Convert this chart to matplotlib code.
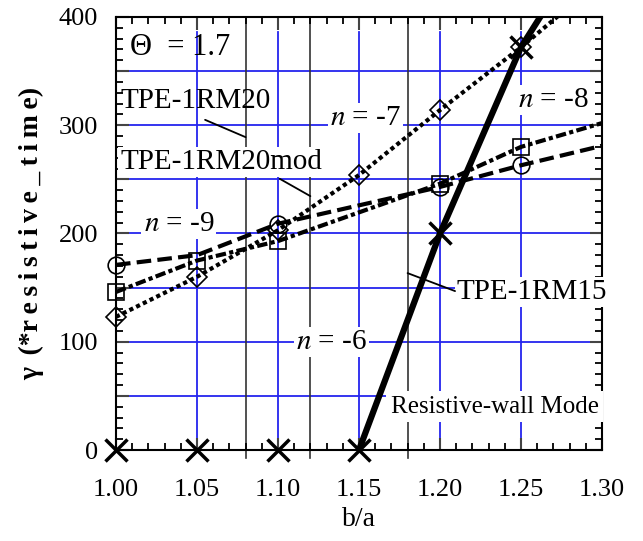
import matplotlib
matplotlib.use("Agg")
import matplotlib.pyplot as plt
from matplotlib.ticker import MultipleLocator, FuncFormatter

plt.rcParams['font.family'] = ['Liberation Serif', 'DejaVu Serif']
plt.rcParams['mathtext.fontset'] = 'stix'

# b/a values of the computed points
ba = [1.00, 1.05, 1.10, 1.15, 1.20, 1.25, 1.30]

# growth rates (in units of 1/resistive time) for each toroidal mode number
gamma_n6 = [0, 0, 0, 0, 200, 372, 490]
gamma_n7 = [123, 160, 203, 254, 314, 372, 435]
ba_n89 = [1.00, 1.05, 1.10, 1.20, 1.25, 1.30]
gamma_n8 = [146, 175, 193, 246, 280, 302]
gamma_n9 = [171, 180, 209, 243, 263, 281]

# wall positions of the devices
device_ba = [1.08, 1.12, 1.18]

blue = '#2424ee'

fig = plt.figure(figsize=(6.43, 5.41), dpi=100)
ax = fig.add_axes([0.1804, 0.1682, 0.7558, 0.8004])
ax.set_xlim(1.00, 1.30)
ax.set_ylim(0, 400)

# blue grid
for y in range(50, 400, 50):
    ax.axhline(y, xmin=0.02, xmax=0.98, color=blue, lw=1.3, zorder=1)
for x in [1.05, 1.10, 1.15, 1.20, 1.25]:
    ax.axvline(x, ymin=0.0, ymax=0.965, color=blue, lw=1.3, zorder=1)

# device lines
for x in device_ba:
    ax.plot([x, x], [-7, 400], color='#333333', lw=1.2, zorder=1, clip_on=False)

# n = -6 : thick solid, line only where it rises
ax.plot(ba[3:], gamma_n6[3:], color='black', lw=4.5, zorder=5,
        solid_capstyle='butt')
ax.plot(ba[:6], gamma_n6[:6], linestyle='none', marker='x', color='black',
        ms=16, mew=2.5, zorder=6, clip_on=False)

# n = -7 : dotted with diamonds
ax.plot(ba, gamma_n7, color='black', lw=3, linestyle=(0, (1, 0.8)),
        dash_capstyle='butt', zorder=4)
ax.plot(ba[:6], gamma_n7[:6], linestyle='none', marker='D', ms=10,
        mfc='none', mec='black', mew=1.2, zorder=4, clip_on=False)

# n = -8 : dash-dot with squares
ax.plot(ba_n89, gamma_n8, color='black', lw=3,
        linestyle=(0, (2.5, 0.8, 1, 0.8)), dash_capstyle='butt', zorder=4)
ax.plot(ba_n89[:5], gamma_n8[:5], linestyle='none', marker='s', ms=12,
        mfc='none', mec='black', mew=1.2, zorder=4, clip_on=False)

# n = -9 : dashed with circles
ax.plot(ba_n89, gamma_n9, color='black', lw=3, linestyle=(0, (3.5, 1.5)),
        dash_capstyle='butt', zorder=4)
circ = [0, 2, 3, 4]
ax.plot([ba_n89[i] for i in circ], [gamma_n9[i] for i in circ],
        linestyle='none', marker='o', ms=12, mfc='none', mec='black', mew=1.2,
        zorder=4, clip_on=False)

# ticks
ax.xaxis.set_major_locator(MultipleLocator(0.05))
ax.xaxis.set_minor_locator(MultipleLocator(0.01))
ax.yaxis.set_major_locator(MultipleLocator(50))
ax.yaxis.set_minor_locator(MultipleLocator(10))
ax.xaxis.set_major_formatter(FuncFormatter(lambda v, p: f'{v:.2f}'))
ax.yaxis.set_major_formatter(
    FuncFormatter(lambda v, p: f'{int(round(v))}' if round(v) % 100 == 0 else ''))
ax.tick_params(which='both', direction='in', top=True, right=True,
               labelsize=19, color='black')
ax.tick_params(which='major', length=9, width=1.5, color='#444444')
ax.tick_params(axis='x', which='major', pad=21)
ax.tick_params(axis='y', which='major', pad=13)
ax.tick_params(which='minor', length=5, width=1.3)
for s in ax.spines.values():
    s.set_linewidth(1.5)

ax.set_xlabel('b/a', fontsize=20, labelpad=4)
ax.set_ylabel('γ\u2009 (*r\u2009e\u2009s\u2009i\u2009s\u2009t\u2009i\u2009v\u2009e\u2009_'
              '\u2009t\u2009i\u2009m\u2009e)',
              fontsize=20, fontweight='bold', labelpad=10)

wb = dict(facecolor='white', edgecolor='none', pad=1.5)
fs = 21
ax.text(1.0086, 372, 'Θ  = 1.7', fontsize=22, va='center', ha='left', zorder=7)
ax.text(1.0025, 322, 'TPE-1RM20', fontsize=fs, va='center', ha='left', zorder=7)
ax.text(1.0025, 266, 'TPE-1RM20mod', fontsize=fs, va='center', ha='left',
        bbox=wb, zorder=7)
ax.text(1.017, 209, '$n$ = -9', fontsize=fs, va='center', ha='left',
        bbox=wb, zorder=7)
ax.text(1.132, 307, '$n$ = -7', fontsize=fs, va='center', ha='left',
        bbox=wb, zorder=7)
ax.text(1.248, 323, '$n$ = -8', fontsize=fs, va='center', ha='left',
        bbox=wb, zorder=7)
ax.text(1.111, 100, '$n$ = -6', fontsize=fs, va='center', ha='left',
        bbox=wb, zorder=7)
ax.text(1.2105, 146, 'TPE-1RM15', fontsize=fs, va='center', ha='left',
        bbox=wb, zorder=7)
ax.text(1.1695, 40, 'Resistive-wall Mode', fontsize=18, va='center',
        ha='left', bbox=dict(facecolor='white', edgecolor='none', pad=3),
        zorder=7)

# leader lines
lead = dict(arrowstyle='-', color='black', lw=1.3, shrinkA=0, shrinkB=0)
ax.annotate('', xy=(device_ba[0], 289), xytext=(1.055, 305), arrowprops=lead,
            zorder=8)
ax.annotate('', xy=(device_ba[1], 234.5), xytext=(1.101, 250.6),
            arrowprops=lead, zorder=8)
ax.annotate('', xy=(1.2093, 146.8), xytext=(device_ba[2], 163.4),
            arrowprops=lead, zorder=8)

fig.savefig('out.png', dpi=100)
